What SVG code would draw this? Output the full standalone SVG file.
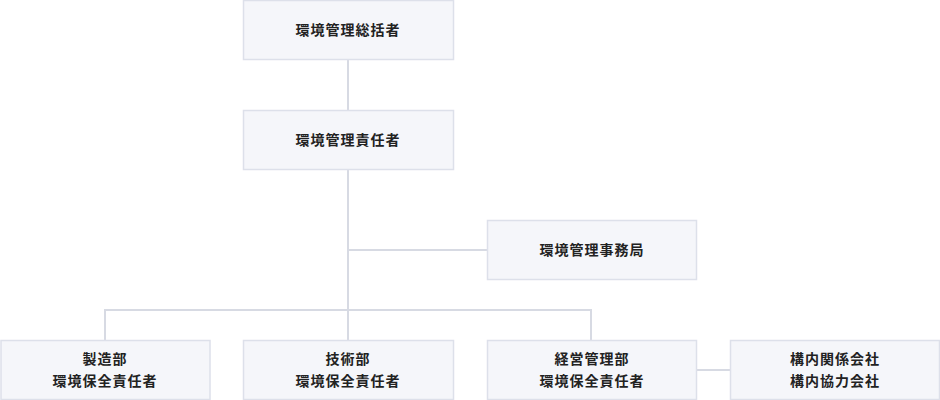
<svg xmlns="http://www.w3.org/2000/svg" width="940" height="400" viewBox="0 0 940 400">
<style>
.b{fill:#f5f6fa;stroke:#dde0ea;stroke-width:1.5}
.t{font-family:"Noto Sans CJK JP",sans-serif;font-size:14px;font-weight:bold;fill:#222;text-anchor:middle;letter-spacing:1px}
.c{stroke:#d7dae3;stroke-width:2;fill:none}
</style>
<rect width="940" height="400" fill="#fff"/>
<g id="connectors">
<path class="c" d="M348 59V110M348 169V340M348 250H487M105 340V310H591V340M696 370H730"/>
</g>
<g id="n1"><rect class="b" x="243.5" y="0.5" width="210" height="59"/><text class="t" x="348" y="35">環境管理総括者</text></g>
<g id="n2"><rect class="b" x="243.5" y="110.5" width="210" height="59"/><text class="t" x="348" y="145">環境管理責任者</text></g>
<g id="n3"><rect class="b" x="487.5" y="220.5" width="209" height="59"/><text class="t" x="592" y="255">環境管理事務局</text></g>
<g id="n4"><rect class="b" x="1" y="340.5" width="209" height="59"/><text class="t" x="105" y="364">製造部</text><text class="t" x="105" y="386">環境保全責任者</text></g>
<g id="n5"><rect class="b" x="243.5" y="340.5" width="210" height="59"/><text class="t" x="348" y="364">技術部</text><text class="t" x="348" y="386">環境保全責任者</text></g>
<g id="n6"><rect class="b" x="487.5" y="340.5" width="209" height="59"/><text class="t" x="592" y="364">経営管理部</text><text class="t" x="592" y="386">環境保全責任者</text></g>
<g id="n7"><rect class="b" x="730.5" y="340.5" width="209" height="59"/><text class="t" x="835" y="364">構内関係会社</text><text class="t" x="835" y="386">構内協力会社</text></g>
</svg>
